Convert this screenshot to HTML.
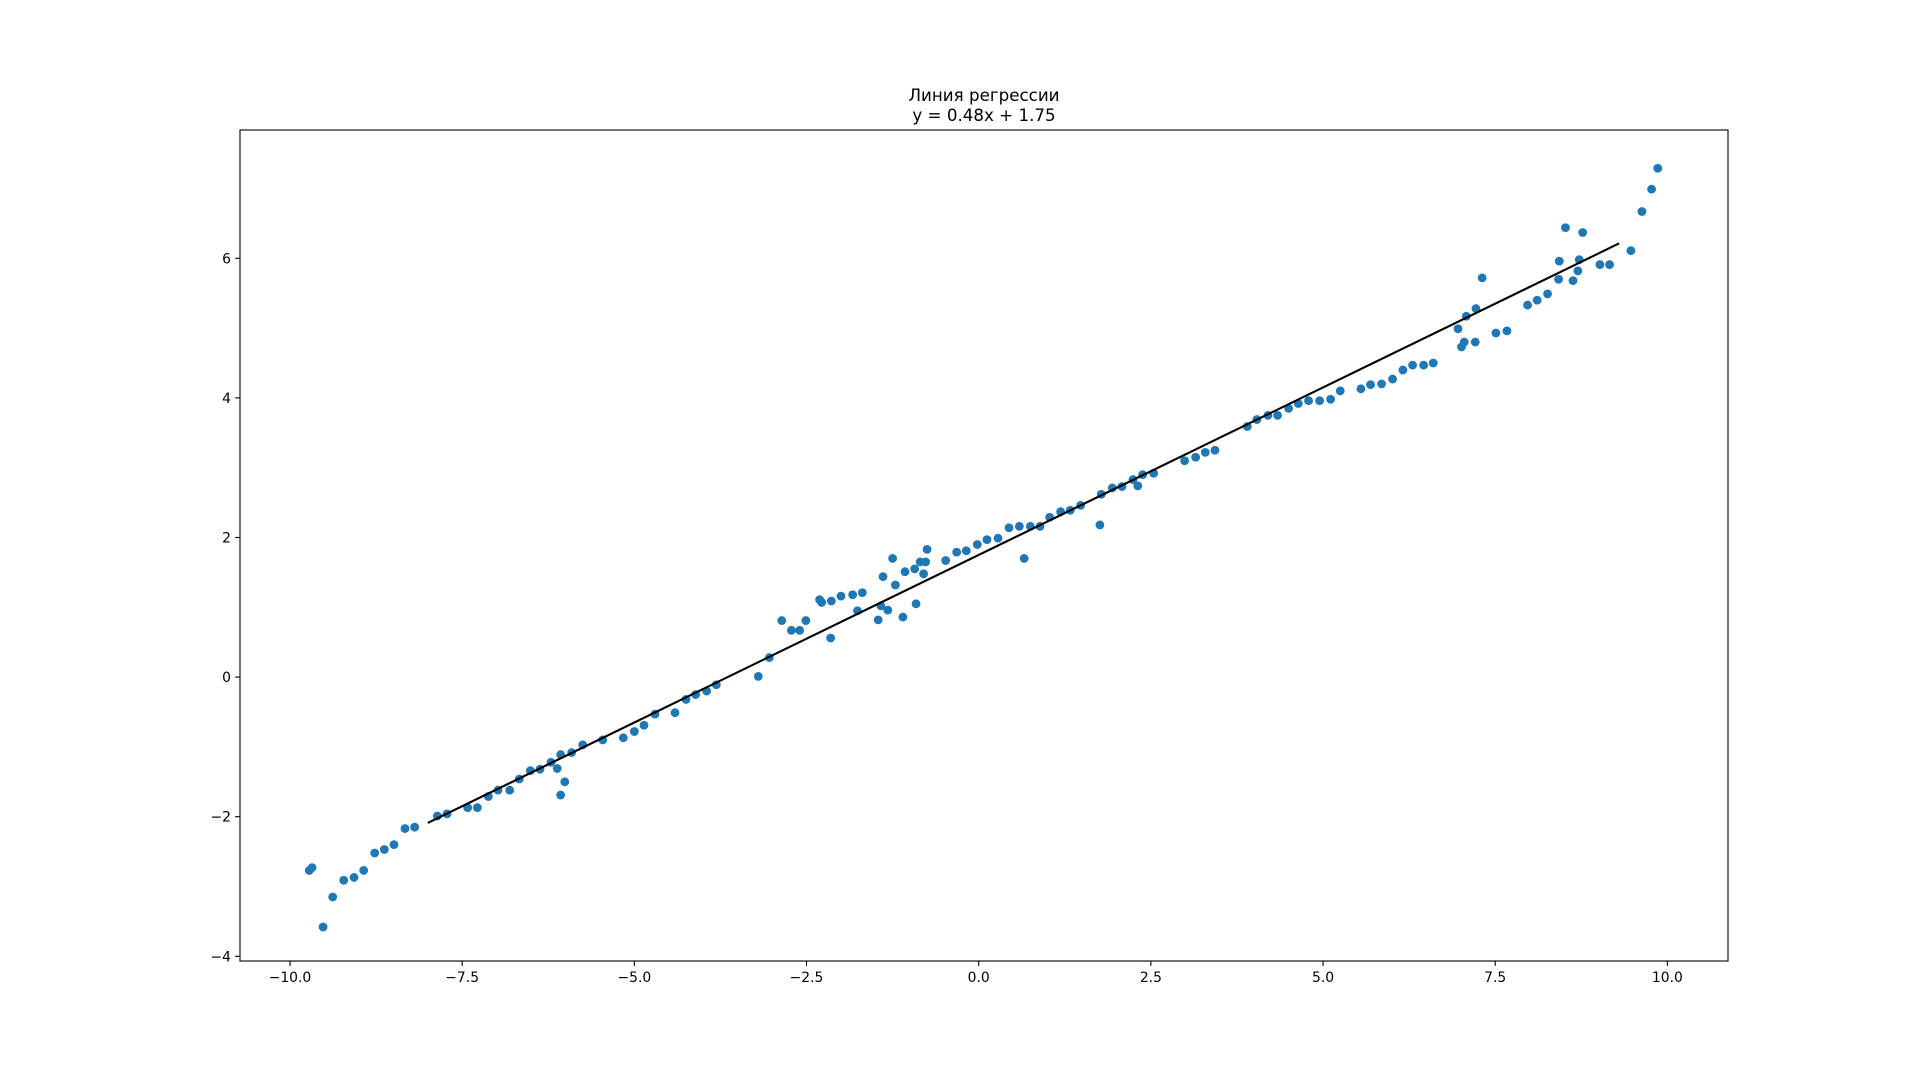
<!DOCTYPE html>
<html><head><meta charset="utf-8"><style>
html,body{margin:0;padding:0;background:#fff;}
svg{display:block;font-family:"DejaVu Sans","Liberation Sans",sans-serif;}
</style></head><body>
<svg id="chart" width="1920" height="1080" viewBox="0 0 1920 1080" xmlns="http://www.w3.org/2000/svg">
<rect x="0" y="0" width="1920" height="1080" fill="#fff"/>
<text x="984" y="101" font-size="16.7" text-anchor="middle">Линия регрессии</text>
<text x="984" y="121" font-size="16.7" text-anchor="middle">y = 0.48x + 1.75</text>
<g id="marks"></g>
<g id="axes"></g>
</svg>
<script>
const xs = [-9.72,-9.68,-9.52,-9.38,-9.22,-9.07,-8.93,-8.77,-8.63,-8.49,-8.33,-8.19,-7.86,-7.72,-7.42,-7.28,-7.12,-6.98,-6.81,-6.67,-6.51,-6.37,-6.21,-6.12,-6.07,-6.07,-6.01,-5.91,-5.75,-5.46,-5.16,-5.0,-4.86,-4.7,-4.41,-4.25,-4.11,-3.95,-3.81,-3.2,-3.04,-2.86,-2.72,-2.6,-2.51,-2.31,-2.28,-2.15,-2.14,-2.0,-1.83,-1.76,-1.69,-1.46,-1.42,-1.39,-1.32,-1.25,-1.21,-1.1,-1.07,-0.93,-0.91,-0.85,-0.8,-0.77,-0.75,-0.48,-0.32,-0.18,-0.02,0.12,0.28,0.44,0.59,0.66,0.75,0.89,1.03,1.19,1.33,1.48,1.76,1.78,1.94,2.08,2.24,2.31,2.38,2.54,2.99,3.15,3.29,3.43,3.9,4.04,4.2,4.34,4.5,4.64,4.79,4.95,5.11,5.25,5.55,5.69,5.85,6.01,6.16,6.3,6.46,6.6,6.96,7.01,7.05,7.08,7.21,7.22,7.31,7.51,7.67,7.97,8.11,8.26,8.42,8.43,8.52,8.63,8.7,8.72,8.77,9.02,9.16,9.47,9.63,9.77,9.86];
const ys = [-2.77,-2.73,-3.58,-3.15,-2.91,-2.87,-2.77,-2.52,-2.47,-2.4,-2.17,-2.15,-1.99,-1.96,-1.87,-1.87,-1.71,-1.62,-1.62,-1.46,-1.34,-1.32,-1.22,-1.31,-1.11,-1.69,-1.5,-1.08,-0.97,-0.9,-0.87,-0.78,-0.69,-0.53,-0.51,-0.32,-0.25,-0.2,-0.11,0.01,0.28,0.81,0.67,0.67,0.81,1.11,1.07,0.56,1.09,1.16,1.18,0.95,1.21,0.82,1.02,1.44,0.96,1.7,1.32,0.86,1.51,1.55,1.05,1.65,1.48,1.65,1.83,1.67,1.79,1.81,1.9,1.97,1.99,2.14,2.16,1.7,2.16,2.16,2.29,2.37,2.39,2.46,2.18,2.62,2.71,2.73,2.83,2.74,2.9,2.92,3.1,3.15,3.22,3.25,3.59,3.69,3.75,3.75,3.85,3.92,3.96,3.96,3.98,4.1,4.13,4.19,4.2,4.27,4.4,4.47,4.47,4.5,4.99,4.73,4.8,5.17,4.8,5.28,5.72,4.93,4.96,5.33,5.4,5.49,5.7,5.96,6.44,5.68,5.82,5.98,6.37,5.91,5.91,6.11,6.67,6.99,7.29];
const slope = [0.48];
const intercept = [1.75];
const lineXRange = [-8.0, 9.3];
const xTicks = [-10,-7.5,-5,-2.5,0,2.5,5,7.5,10];
const xTickLabels = ["−10.0","−7.5","−5.0","−2.5","0.0","2.5","5.0","7.5","10.0"];
const yTicks = [-4,-2,0,2,4,6];
const yTickLabels = ["−4","−2","0","2","4","6"];

const NS="http://www.w3.org/2000/svg";
const AX={l:240,r:1728,t:130,b:961};
function X(v){return 290+(v+10)*68.87;}
function Y(v){return 258.3-(v-6)*69.8;}
function mk(tag,attrs,parent){const e=document.createElementNS(NS,tag);for(const k in attrs)e.setAttribute(k,attrs[k]);parent.appendChild(e);return e;}
const marks=document.getElementById('marks');
const axes=document.getElementById('axes');
for(let i=0;i<xs.length;i++){
  const c=mk('circle',{cx:X(xs[i]),cy:Y(ys[i]),r:4.4,fill:'#1f77b4'},marks);
  
  
}
const ln=mk('line',{x1:X(lineXRange[0]),y1:Y(slope[0]*lineXRange[0]+intercept[0]),x2:X(lineXRange[1]),y2:Y(slope[0]*lineXRange[1]+intercept[0]),stroke:'#000','stroke-width':2.1},marks);


const fr=mk('rect',{x:AX.l,y:AX.t,width:AX.r-AX.l,height:AX.b-AX.t,fill:'none',stroke:'#000','stroke-width':1.1},axes);


xTicks.forEach((v,i)=>{
  const x=X(v);
  const t=mk('line',{x1:x,y1:AX.b,x2:x,y2:AX.b+4.9,stroke:'#000','stroke-width':1.1},axes);
  
  
  const l=mk('text',{x:x,y:AX.b+21,'font-size':13.9,'text-anchor':'middle'},axes);
  l.textContent=xTickLabels[i];
  
  
});
yTicks.forEach((v,i)=>{
  const y=Y(v);
  const t=mk('line',{x1:AX.l-4.9,y1:y,x2:AX.l,y2:y,stroke:'#000','stroke-width':1.1},axes);
  
  
  const l=mk('text',{x:AX.l-9,y:y+5,'font-size':13.9,'text-anchor':'end'},axes);
  l.textContent=yTickLabels[i];
  
  
});
</script>
</body></html>
